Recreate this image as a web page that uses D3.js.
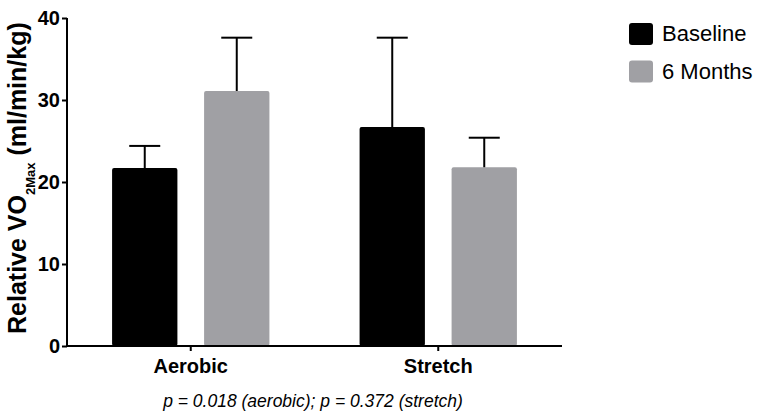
<!DOCTYPE html>
<html>
<head>
<meta charset="utf-8">
<script src="https://cdn.jsdelivr.net/npm/d3@7"></script>
<style>
  body { margin: 0; background: #fff; }
  text { font-family: "Liberation Sans", Arial, sans-serif; }
</style>
</head>
<body>
<div id="container"></div>
<script>
const groups = ["Aerobic", "Stretch"];
const series = ["Baseline", "6 Months"];
const means = [[21.7, 31.1], [26.7, 21.8]];   // [group][series]
const errTops = [[24.4, 37.6], [37.6, 25.4]];
const yTicks = [0, 10, 20, 30, 40];
const colors = ["#000000", "#a0a0a4"];
const note = "p = 0.018 (aerobic); p = 0.372 (stretch)";

const W = 764, H = 419;
const svg = d3.select("#container").append("svg")
  .attr("width", W).attr("height", H);

const x0 = d3.scaleBand().domain(groups).range([67, 562]);
const x1 = d3.scaleBand().domain(series)
  .range([0, x0.bandwidth()])
  .paddingInner(0.29).paddingOuter(0.49);
const y = d3.scaleLinear().domain([0, 40]).range([346, 18]);

// bars
const g = svg.append("g");
groups.forEach((grp, gi) => {
  series.forEach((s, si) => {
    const bx = x0(grp) + x1(s), bw = x1.bandwidth();
    const cx = bx + bw / 2;
    g.append("rect")
      .attr("x", bx).attr("y", y(means[gi][si]))
      .attr("width", bw).attr("height", y(0) - y(means[gi][si]))
      .attr("rx", 2)
      .attr("fill", colors[si]);
    g.append("line")
      .attr("x1", cx).attr("x2", cx)
      .attr("y1", y(means[gi][si])).attr("y2", y(errTops[gi][si]))
      .attr("stroke", "#000").attr("stroke-width", 2);
    g.append("line")
      .attr("x1", cx - 15.5).attr("x2", cx + 15.5)
      .attr("y1", y(errTops[gi][si])).attr("y2", y(errTops[gi][si]))
      .attr("stroke", "#000").attr("stroke-width", 2);
  });
});

// y axis
const yAxis = svg.append("g")
  .attr("transform", "translate(67,0)")
  .call(d3.axisLeft(y).tickValues(yTicks).tickSize(5).tickPadding(2));
yAxis.select(".domain").attr("stroke-width", 2).attr("d", `M0,${y(40)}V${y(0)}`);
yAxis.selectAll(".tick line").attr("stroke-width", 2);
yAxis.selectAll("text")
  .attr("font-size", 20).attr("font-weight", "bold").attr("fill", "#000")
  .style("font-family", '"Liberation Sans", Arial, sans-serif');

// x axis
const xAxis = svg.append("g")
  .attr("transform", `translate(0,${y(0)})`)
  .call(d3.axisBottom(x0).tickSize(5).tickPadding(8));
xAxis.select(".domain").attr("stroke-width", 2).attr("d", `M66,0H562`);
xAxis.selectAll(".tick line").attr("stroke-width", 2);
xAxis.selectAll("text")
  .attr("font-size", 20).attr("font-weight", "bold").attr("fill", "#000")
  .style("font-family", '"Liberation Sans", Arial, sans-serif');

// y title
const yt = svg.append("text")
  .attr("transform", "translate(26,334) rotate(-90)")
  .attr("text-anchor", "start")
  .attr("font-size", 25).attr("font-weight", "bold");
yt.append("tspan").text("Relative VO");
yt.append("tspan").attr("font-size", 13).attr("dy", 9).text("2Max");
yt.append("tspan").attr("dy", -9).text(" (ml/min/kg)");

// note
svg.append("text")
  .attr("x", 313).attr("y", 407)
  .attr("text-anchor", "middle")
  .attr("font-size", 17.5).attr("font-style", "italic")
  .text(note);

// legend
const leg = svg.append("g");
series.forEach((s, i) => {
  leg.append("rect")
    .attr("x", 629).attr("y", 23 + i * 37.5)
    .attr("width", 24).attr("height", 22).attr("rx", 3)
    .attr("fill", colors[i]);
  leg.append("text")
    .attr("x", 662).attr("y", 41 + i * 37.5)
    .attr("font-size", 22)
    .text(s);
});
</script>
</body>
</html>
